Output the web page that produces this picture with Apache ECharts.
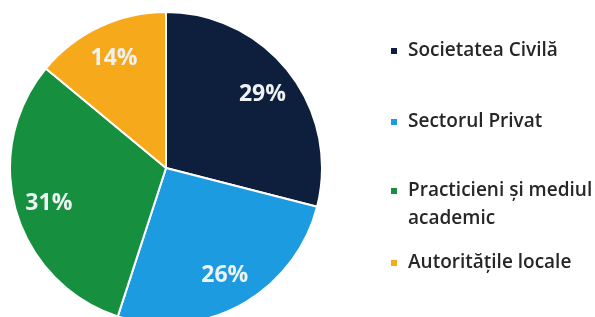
<!DOCTYPE html>
<html>
<head>
<meta charset="utf-8">
<script src="https://cdn.jsdelivr.net/npm/echarts@6/dist/echarts.min.js"></script>
<style>
  html, body { margin: 0; padding: 0; background: #fff; }
  #chart { width: 595px; height: 317px; }
</style>
</head>
<body>
<div id="chart"></div>
<script>
var NAMES = ['Societatea Civilă', 'Sectorul Privat', 'Practicieni și mediul\nacademic', 'Autoritățile locale'];
var VALUES = [29, 26, 31, 14];
var COLORS = ['#0d1f3d', '#1d9be0', '#16903f', '#f7a91c'];
// icon centre y of each legend entry
var LEGEND_Y = [51, 122, 191, 263];

var chart = echarts.init(document.getElementById('chart'), null, { renderer: 'canvas' });

var pieData = NAMES.map(function (n, i) {
  return { name: n, value: VALUES[i], itemStyle: { color: COLORS[i] } };
});

// one legend per item so spacing can follow the picture
var legends = NAMES.map(function (n, i) {
  var multi = n.indexOf('\n') >= 0;
  var lh = multi ? 28 : 24;
  // legend centres the icon on the text block; an empty first line
  // puts the icon level with the first real line for the 2-line entry
  var lines = multi ? 3 : 1;
  return {
    orient: 'vertical',
    left: 389,
    top: LEGEND_Y[i] - lines * lh / 2,
    padding: 0,
    icon: 'rect',
    itemWidth: 8,
    itemHeight: 8,
    itemGap: 0,
    selectedMode: false,
    data: [n],
    formatter: function (name) { return multi ? ' \n' + name : name; },
    textStyle: {
      fontFamily: 'Open Sans',
      fontSize: 19,
      fontWeight: 600,
      color: '#262626',
      lineHeight: lh,
      padding: [0, 0, 0, 5]
    }
  };
});

chart.setOption({
  animation: false,
  legend: legends,
  series: [{
    type: 'pie',
    center: [166, 168],
    radius: [0, 156],
    startAngle: 90,
    clockwise: true,
    silent: true,
    label: { show: false },
    labelLine: { show: false },
    itemStyle: { borderColor: '#fff', borderWidth: 2 },
    data: pieData
  }, {
    // label ring: transparent, only places the percent labels
    type: 'pie',
    center: [166, 169],
    radius: [82, 156],
    startAngle: 90,
    clockwise: true,
    silent: true,
    legendHoverLink: false,
    itemStyle: { color: 'rgba(0,0,0,0)' },
    label: {
      show: true,
      position: 'inside',
      formatter: '{c}%',
      color: '#eef2f4',
      fontFamily: 'Open Sans',
      fontWeight: 'bold',
      fontSize: 23
    },
    labelLine: { show: false },
    data: NAMES.map(function (n, i) { return { name: n + ' ', value: VALUES[i] }; })
  }]
});
</script>
</body>
</html>
